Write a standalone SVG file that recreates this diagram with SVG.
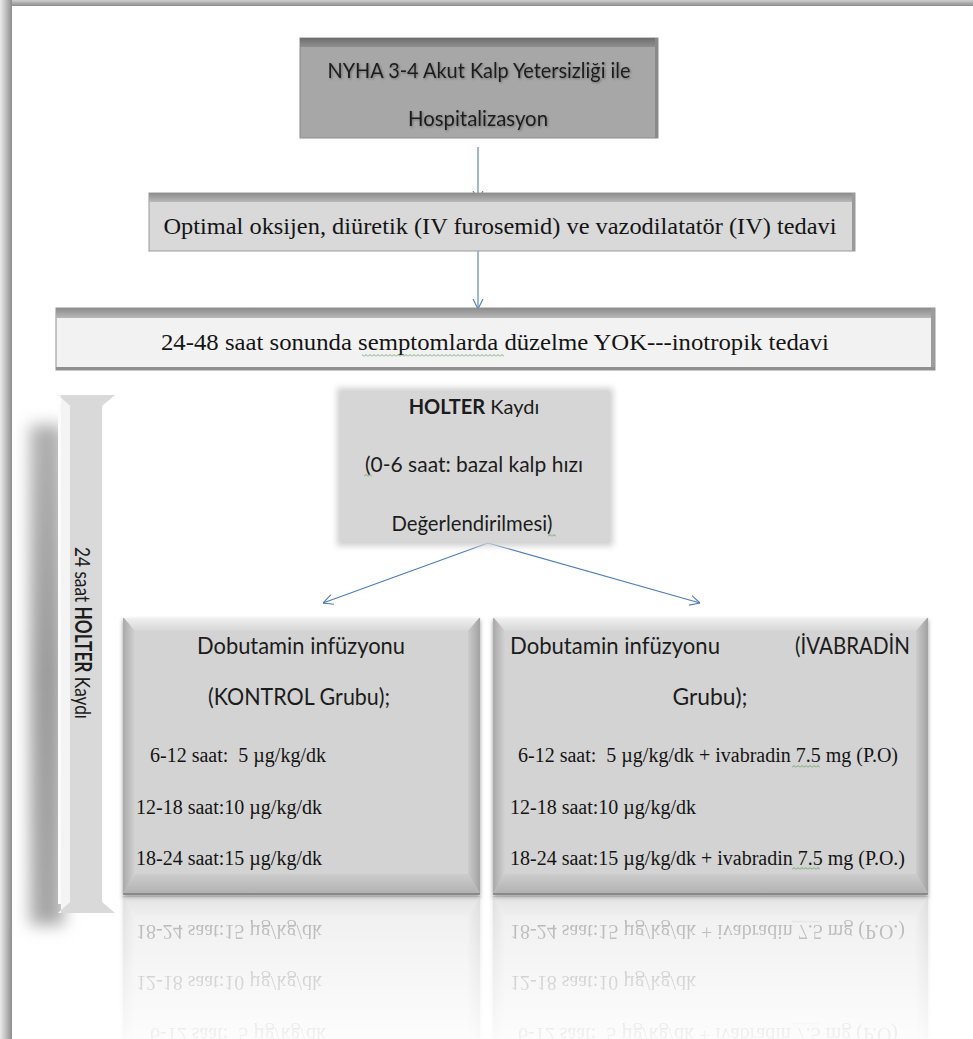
<svg xmlns="http://www.w3.org/2000/svg" width="973" height="1039" viewBox="0 0 973 1039">
<style>
.cal{font-family:Lato,"Open Sans","DejaVu Sans",sans-serif;fill:#1c1c1c}
.tms{font-family:"Liberation Serif","Times New Roman",serif;fill:#141414}
.con{fill:none;stroke:#4f7bb8;stroke-width:1.1}
</style>
<defs>
<marker id="arr" viewBox="0 0 10 12" refX="10" refY="6" markerWidth="10" markerHeight="12" markerUnits="userSpaceOnUse" orient="auto">
<path d="M0,1 L10,6 L0,11" fill="none" stroke="#4f7bb8" stroke-width="1.1"/>
</marker>
<linearGradient id="leftEdge" x1="0" y1="0" x2="1" y2="0"><stop offset="0" stop-color="#ececec"/><stop offset="0.6" stop-color="#b4b4b4"/><stop offset="1" stop-color="#8e8e8e"/></linearGradient>
<linearGradient id="topEdge" x1="0" y1="0" x2="0" y2="1"><stop offset="0" stop-color="#d0d0d0"/><stop offset="1" stop-color="#8a8a8a"/></linearGradient>
<linearGradient id="band1" x1="0" y1="0" x2="0" y2="1"><stop offset="0" stop-color="#6e6e6e"/><stop offset="1" stop-color="#8f8f8f"/></linearGradient>
<linearGradient id="band2" x1="0" y1="0" x2="0" y2="1"><stop offset="0" stop-color="#8c8c8c"/><stop offset="1" stop-color="#b8b8b8"/></linearGradient>
<linearGradient id="bvT" x1="0" y1="0" x2="0" y2="1"><stop offset="0" stop-color="#f2f2f2"/><stop offset="1" stop-color="#d6d6d6"/></linearGradient>
<linearGradient id="bvL" x1="0" y1="0" x2="1" y2="0"><stop offset="0" stop-color="#a9a9a9"/><stop offset="1" stop-color="#d2d2d2"/></linearGradient>
<linearGradient id="bvR" x1="0" y1="0" x2="1" y2="0"><stop offset="0" stop-color="#cbcbcb"/><stop offset="1" stop-color="#a2a2a2"/></linearGradient>
<linearGradient id="bvB" x1="0" y1="0" x2="0" y2="1"><stop offset="0" stop-color="#cdcdcd"/><stop offset="1" stop-color="#b0b0b0"/></linearGradient>
<linearGradient id="barShadow" x1="0" y1="0" x2="0" y2="1"><stop offset="0" stop-color="#b0b0b0"/><stop offset="0.5" stop-color="#9c9c9c"/><stop offset="1" stop-color="#a8a8a8"/></linearGradient>
<linearGradient id="fade" x1="0" y1="895" x2="0" y2="1039" gradientUnits="userSpaceOnUse"><stop offset="0" stop-color="#fff" stop-opacity="0.36"/><stop offset="1" stop-color="#fff" stop-opacity="0.06"/></linearGradient>
<mask id="reflMask" maskUnits="userSpaceOnUse" x="0" y="896" width="973" height="143"><rect x="0" y="896" width="973" height="143" fill="url(#fade)"/></mask>
<filter id="blur7" x="-80%" y="-10%" width="260%" height="120%"><feGaussianBlur stdDeviation="8"/></filter>
<filter id="blur3" x="-10%" y="-10%" width="120%" height="120%"><feGaussianBlur stdDeviation="3"/></filter>
<filter id="blur2" x="-5%" y="-5%" width="110%" height="115%"><feGaussianBlur stdDeviation="2"/></filter>
<filter id="tsh" x="-5%" y="-20%" width="110%" height="150%"><feDropShadow dx="1" dy="1" stdDeviation="0.9" flood-color="#4a4a4a" flood-opacity="0.6"/></filter>
<pattern id="wavy" x="0" y="0" width="4" height="3" patternUnits="userSpaceOnUse"><path d="M0,2.5 L2,0.5 L4,2.5" fill="none" stroke="#52a152" stroke-width="0.8"/></pattern>
</defs>

<rect width="973" height="1039" fill="#fff"/>

<g id="frame">
<rect x="0" y="0" width="973" height="6" fill="url(#topEdge)"/>
<rect x="0" y="0" width="12" height="1039" fill="url(#leftEdge)"/>
</g>

<g id="n-24saat">
<rect x="30" y="425" width="34" height="500" fill="url(#barShadow)" filter="url(#blur7)"/>
<rect x="58" y="404" width="14" height="500" fill="#fbfbfb"/>
<polygon points="58,395 115,395 102,406 102,902 115,913 58,913 70,902 70,406" fill="#d9d9d9"/>
<polygon points="58,395 70,406 70,902 58,913 61,913 61,395" fill="#f4f4f4"/>
<text class="cal" font-size="22" transform="translate(75,633) rotate(90)" text-anchor="middle" textLength="172" lengthAdjust="spacingAndGlyphs">24 saat <tspan font-weight="bold">HOLTER</tspan> Kaydı</text>
</g>

<g id="connectors">
<path class="con" d="M478,147 L478,201" marker-end="url(#arr)"/>
<path class="con" d="M478,251 L478,309" marker-end="url(#arr)"/>
<path class="con" d="M488,543 L323,603" marker-end="url(#arr)"/>
<path class="con" d="M488,543 L700,603" marker-end="url(#arr)"/>
</g>

<g id="n-nyha">
<rect x="300" y="38" width="358" height="100" fill="#a7a7a7" stroke="#8e8e8e"/>
<rect x="300" y="38" width="358" height="9" fill="url(#band1)"/>
<rect x="655" y="38" width="3" height="100" fill="#8a8a8a"/>
<g filter="url(#tsh)">
<text class="cal" font-size="21" x="479" y="78" text-anchor="middle" textLength="303" lengthAdjust="spacingAndGlyphs">NYHA 3-4 Akut Kalp Yetersizliği ile</text>
<text class="cal" font-size="21" x="478" y="126" text-anchor="middle" textLength="140" lengthAdjust="spacingAndGlyphs">Hospitalizasyon</text>
</g>
</g>

<g id="n-optimal">
<rect x="149" y="193" width="706" height="58" fill="#d9d9d9" stroke="#9a9a9a"/>
<rect x="149" y="193" width="706" height="9" fill="url(#band2)"/>
<rect x="852" y="193" width="3" height="58" fill="#9a9a9a"/>
<text class="tms" font-size="24" x="500" y="234" text-anchor="middle" textLength="673" lengthAdjust="spacingAndGlyphs">Optimal oksijen, diüretik (IV furosemid) ve vazodilatatör (IV) tedavi</text>
</g>

<g id="n-inotropik">
<rect x="56" y="308" width="879" height="62" fill="#f2f2f2" stroke="#939393"/>
<rect x="56" y="308" width="879" height="10" fill="url(#band2)"/>
<rect x="931" y="308" width="4" height="62" fill="#9c9c9c"/>
<rect x="56" y="367" width="879" height="3" fill="#8f8f8f"/>
<text class="tms" font-size="24" x="495" y="350" text-anchor="middle" textLength="668" lengthAdjust="spacingAndGlyphs">24-48 saat sonunda semptomlarda düzelme YOK---inotropik tedavi</text>
<rect x="362" y="354" width="142" height="3" fill="url(#wavy)"/>
</g>

<g id="n-holter">
<rect x="337" y="388" width="276" height="158" fill="#cfcfcf" filter="url(#blur3)"/>
<rect x="341" y="392" width="268" height="150" fill="#d6d6d6"/>
<text class="cal" font-size="20" x="474" y="414" text-anchor="middle"><tspan font-weight="bold">HOLTER</tspan> Kaydı</text>
<text class="cal" font-size="21" x="474" y="472" text-anchor="middle" textLength="218" lengthAdjust="spacingAndGlyphs">(0-6 saat: bazal kalp hızı</text>
<text class="cal" font-size="21" x="472" y="531" text-anchor="middle" textLength="161" lengthAdjust="spacingAndGlyphs">Değerlendirilmesi)</text>
<rect x="364" y="474" width="8" height="3" fill="url(#wavy)"/>
<rect x="548" y="534" width="8" height="3" fill="url(#wavy)"/>
</g>

<g id="n-kontrol">
<rect x="123" y="620" width="357" height="277" fill="#9a9a9a" filter="url(#blur2)"/>
<rect x="123" y="617" width="357" height="277" fill="#d3d3d3"/>
<polygon points="123,617 480,617 468,631 135,631" fill="url(#bvT)"/>
<polygon points="123,617 135,631 135,874 123,894" fill="url(#bvL)"/>
<polygon points="480,617 480,894 468,874 468,631" fill="url(#bvR)"/>
<polygon points="123,894 480,894 468,874 135,874" fill="url(#bvB)"/>
<rect x="135" y="631" width="333" height="243" fill="#d3d3d3"/>
<line x1="123" y1="894" x2="480" y2="894" stroke="#7c7c7c" stroke-width="1.5"/>
<line x1="123" y1="617.5" x2="480" y2="617.5" stroke="#f7f7f7" stroke-width="1"/>
<text class="cal" font-size="22.5" x="301" y="654" text-anchor="middle" textLength="208" lengthAdjust="spacingAndGlyphs">Dobutamin infüzyonu</text>
<text class="cal" font-size="22.5" x="299" y="705" text-anchor="middle" textLength="182" lengthAdjust="spacingAndGlyphs">(KONTROL Grubu);</text>
<text class="tms" font-size="20" x="150" y="762" xml:space="preserve">6-12 saat:  5 µg/kg/dk</text>
<text class="tms" font-size="20" x="136" y="814">12-18 saat:10 µg/kg/dk</text>
<text class="tms" font-size="20" x="136" y="865">18-24 saat:15 µg/kg/dk</text>
</g>

<g id="n-ivabradin">
<rect x="493" y="620" width="435" height="277" fill="#9a9a9a" filter="url(#blur2)"/>
<rect x="493" y="617" width="435" height="277" fill="#d3d3d3"/>
<polygon points="493,617 928,617 916,631 505,631" fill="url(#bvT)"/>
<polygon points="493,617 505,631 505,874 493,894" fill="url(#bvL)"/>
<polygon points="928,617 928,894 916,874 916,631" fill="url(#bvR)"/>
<polygon points="493,894 928,894 916,874 505,874" fill="url(#bvB)"/>
<rect x="505" y="631" width="411" height="243" fill="#d3d3d3"/>
<line x1="493" y1="894" x2="928" y2="894" stroke="#7c7c7c" stroke-width="1.5"/>
<line x1="493" y1="617.5" x2="928" y2="617.5" stroke="#f7f7f7" stroke-width="1"/>
<text class="cal" font-size="22.5" x="510" y="654" textLength="210" lengthAdjust="spacingAndGlyphs">Dobutamin infüzyonu</text>
<text class="cal" font-size="22.5" x="910" y="654" text-anchor="end" textLength="115" lengthAdjust="spacingAndGlyphs">(İVABRADİN</text>
<text class="cal" font-size="22.5" x="710" y="705" text-anchor="middle" textLength="75" lengthAdjust="spacingAndGlyphs">Grubu);</text>
<text class="tms" font-size="20" x="518" y="762" xml:space="preserve">6-12 saat:  5 µg/kg/dk + ivabradin 7.5 mg (P.O)</text>
<text class="tms" font-size="20" x="510" y="814">12-18 saat:10 µg/kg/dk</text>
<text class="tms" font-size="20" x="510" y="865">18-24 saat:15 µg/kg/dk + ivabradin 7.5 mg (P.O.)</text>
<rect x="792" y="765" width="28" height="3" fill="url(#wavy)"/>
<rect x="792" y="867" width="28" height="3" fill="url(#wavy)"/>
</g>

<g id="reflection" mask="url(#reflMask)">
<use href="#n-kontrol" transform="matrix(1 0 0 -1 0 1790)"/>
<use href="#n-ivabradin" transform="matrix(1 0 0 -1 0 1790)"/>
</g>
</svg>
